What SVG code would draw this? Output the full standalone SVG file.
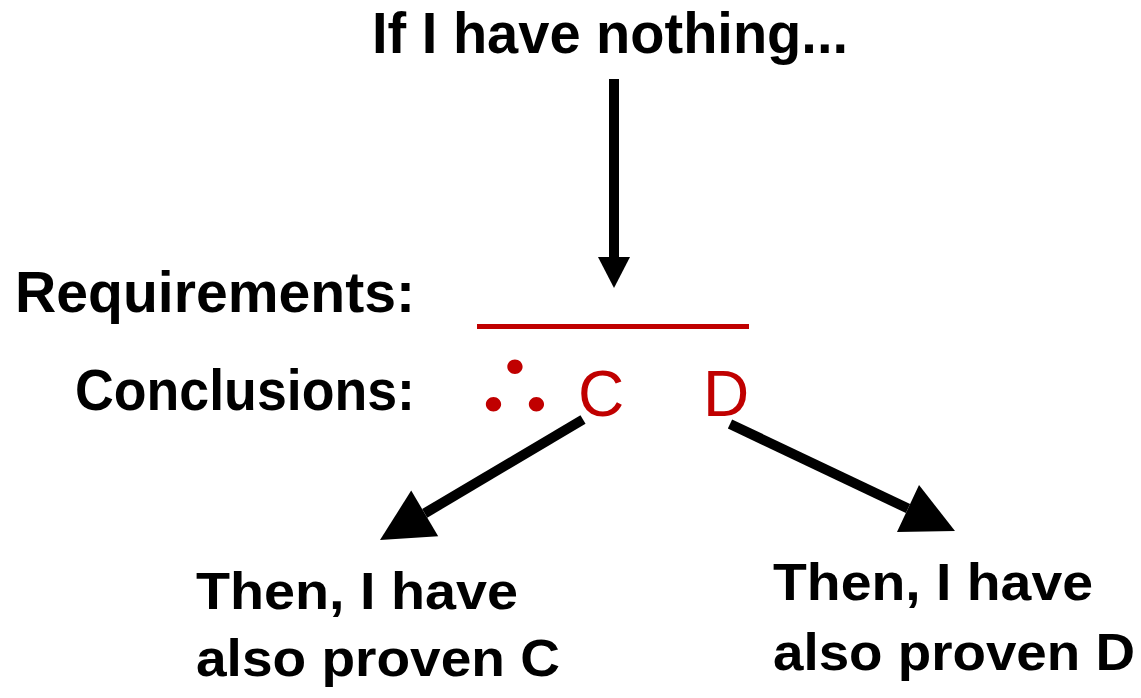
<svg xmlns="http://www.w3.org/2000/svg" width="1141" height="698" viewBox="0 0 1141 698">
<style>
.t{font-family:"Liberation Sans",Arial,sans-serif;font-weight:bold;fill:#000}
.r{font-family:"Liberation Sans",Arial,sans-serif;fill:#C00000}
.shaft{stroke:#000;stroke-width:10;fill:none}
.head{fill:#000}
</style>
<rect width="1141" height="698" fill="#fff"/>
<g id="premise">
<text class="t" x="372" y="53" font-size="57" textLength="476" lengthAdjust="spacingAndGlyphs">If I have nothing...</text>
</g>
<g id="labels">
<text class="t" x="15" y="312" font-size="57" textLength="400" lengthAdjust="spacingAndGlyphs">Requirements:</text>
<text class="t" x="75" y="410" font-size="57" textLength="340" lengthAdjust="spacingAndGlyphs">Conclusions:</text>
</g>
<g id="rule">
<rect x="477" y="324" width="272" height="5" fill="#C00000"/>
<text class="r" transform="translate(515,417) scale(1.06,1)" x="0" y="0" font-size="83" font-weight="bold" text-anchor="middle" style="font-family:'Noto Sans CJK SC',sans-serif">∴</text>
<text class="r" x="578" y="416" font-size="64">C</text>
<text class="r" x="703" y="416" font-size="64">D</text>
</g>
<g id="resultC">
<text class="t" x="196" y="609" font-size="52" textLength="322" lengthAdjust="spacingAndGlyphs">Then, I have</text>
<text class="t" x="196" y="676" font-size="52" textLength="364" lengthAdjust="spacingAndGlyphs">also proven C</text>
</g>
<g id="resultD">
<text class="t" x="773" y="600" font-size="52" textLength="320" lengthAdjust="spacingAndGlyphs">Then, I have</text>
<text class="t" x="773" y="670" font-size="52" textLength="362" lengthAdjust="spacingAndGlyphs">also proven D</text>
</g>
<g id="connectors">
<line class="shaft" x1="614" y1="79" x2="614" y2="258"/>
<polygon class="head" points="598,257 630,257 614,288"/>
<line class="shaft" x1="583" y1="419.5" x2="424.7" y2="513.4"/>
<polygon class="head" points="438.2,536.2 411.2,490.6 380,540"/>
<line class="shaft" x1="730" y1="424" x2="908" y2="508.5"/>
<polygon class="head" points="919,485 897,532 955,531"/>
</g>
</svg>
